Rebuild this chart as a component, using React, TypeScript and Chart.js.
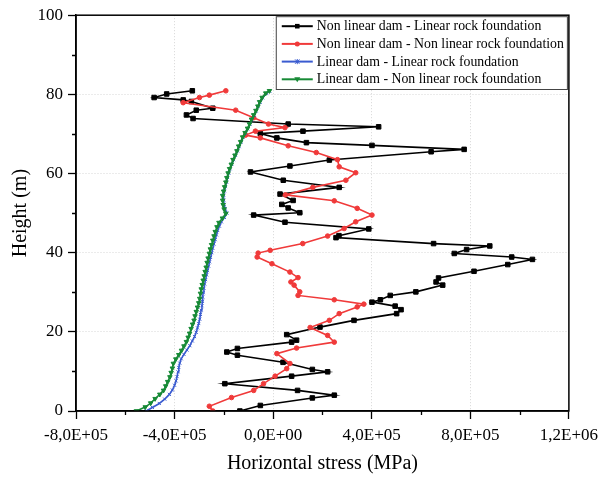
import React, { useEffect, useRef } from 'react';
import { Chart, registerables } from 'chart.js';

Chart.register(...registerables);

// Heights (m) and horizontal stresses (in thousands of MPa units, i.e. x1e3)
const blackHeight = [0,1.4,3.3,4.0,5.2,6.9,8.8,9.9,10.5,12.3,14.1,14.9,15.8,17.4,17.9,19.3,21.2,22.9,24.6,25.6,26.5,27.5,28.1,29.2,30.1,31.8,32.6,33.6,35.3,37.0,38.3,38.9,39.8,40.8,41.7,42.3,43.8,44.3,46.0,47.7,49.5,50.1,51.3,52.2,53.2,54.8,56.5,58.3,60.4,61.9,63.4,65.5,66.1,67.1,67.8,69.0,70.1,70.7,71.8,72.5,73.9,74.8,76.0,76.5,78.2,78.6,79.2,80.1,80.9];
const blackStressK = [-135,-52,159,248,99,-196,75,221,159,40,-145,-188,-145,75,95,55,190,328,501,519,495,401,435,475,579,688,661,671,815,952,1052,968,735,785,879,651,255,267,388,48,-79,108,61,35,81,28,268,41,-92,68,228,641,775,401,135,15,-52,121,428,61,-325,-352,-312,-245,-332,-365,-483,-432,-328];

const redHeight = [0,1.2,3.4,5.2,6.9,8.8,10.7,12.0,14.5,15.9,17.4,19.1,21.1,22.9,24.6,26.3,27.0,28.1,29.2,30.1,31.8,32.6,33.7,35.1,37.2,38.9,39.9,40.6,42.3,44.2,46.1,47.8,49.5,51.2,53.1,54.6,56.5,58.3,60.2,61.7,63.5,65.3,67.0,69.0,69.7,70.7,71.6,72.5,74.1,76.0,77.9,79.2,79.8,80.9];
const redStressK = [-245,-259,-169,-79,-39,8,55,68,15,95,248,221,150,228,268,341,368,248,101,108,85,72,101,68,-5,-65,-61,-12,120,221,288,335,401,341,248,50,161,295,335,268,261,175,61,-52,-112,-72,48,-19,-79,-152,-365,-299,-259,-192];

const blueHeight = [0,0.9,1.9,3.0,4.2,5.3,6.5,7.6,8.7,9.9,11.0,12.1,13.2,14.3,15.4,16.5,17.7,18.8,19.9,21.0,22.1,23.2,24.4,25.5,26.6,27.7,28.8,29.9,31.0,32.1,33.2,34.4,35.5,36.6,37.7,38.8,40.0,41.1,42.2,43.3,44.5,45.6,46.7,47.8,48.9,50.0,51.1,52.2,53.3,54.5,55.6,56.7,57.8,59.0,60.1,61.2,62.3,63.5,64.6,65.7,66.8,68.0,69.1,70.2,71.3,72.5,73.6,74.7,75.8,76.9,78.0,79.1,80.2,80.8];
const blueStressK = [-515,-490,-462,-440,-421,-409,-400,-394,-390,-386,-383,-379,-373,-362,-350,-338,-328,-319,-312,-307,-302,-298,-295,-292,-289,-287,-286,-284,-281,-278,-274,-270,-266,-262,-258,-254,-249,-245,-240,-235,-230,-225,-218,-210,-198,-188,-195,-199,-201,-201,-198,-194,-189,-185,-180,-175,-168,-161,-153,-145,-138,-130,-122,-113,-103,-94,-86,-77,-69,-61,-53,-43,-28,-14];

const greenHeight = [0,1.0,2.0,3.1,4.2,5.2,6.3,7.4,8.6,9.7,10.8,12.0,13.1,14.2,15.3,16.4,17.5,18.6,19.6,20.8,21.9,22.9,24.0,25.1,26.2,27.3,28.4,29.7,30.8,31.9,33.0,34.1,35.2,36.3,37.5,38.6,39.8,40.9,42.0,43.1,44.2,45.3,46.5,47.6,48.7,49.9,51.0,52.1,53.2,54.4,55.5,56.6,57.8,58.9,60.1,61.2,62.3,63.5,64.6,65.7,66.9,68.0,69.2,70.3,71.4,72.5,73.7,74.8,75.9,77.0,78.1,79.2,80.3,80.9];
const greenStressK = [-555,-519,-497,-479,-460,-445,-436,-428,-419,-414,-409,-405,-395,-383,-372,-362,-352,-345,-339,-333,-327,-321,-317,-312,-307,-302,-298,-295,-292,-288,-284,-280,-276,-272,-268,-264,-259,-255,-250,-245,-240,-235,-228,-220,-206,-192,-199,-203,-205,-205,-201,-197,-192,-188,-183,-177,-170,-163,-155,-147,-140,-132,-124,-114,-104,-96,-88,-79,-70,-62,-55,-45,-30,-15];

const seriesLabels = [
  'Non linear dam - Linear rock foundation',
  'Non linear dam - Non linear rock foundation',
  'Linear dam - Linear rock foundation',
  'Linear dam - Non linear rock foundation',
];
const seriesColors = ['#000000', '#f03a3a', '#3a5bd0', '#178a36'];

const xMajorTicks = [-8e5, -4e5, 0, 4e5, 8e5, 1.2e6];
const xMinorTicks = [-6e5, -2e5, 2e5, 6e5, 1e6];
const yMajorTicks = [0, 20, 40, 60, 80, 100];
const yMinorTicks = [10, 30, 50, 70, 90];

const SERIF = '"Liberation Serif", "Times New Roman", serif';

function toPoints(h: number[], sK: number[]) {
  return h.map((y, i) => ({ x: sK[i] * 1e3, y }));
}

function fmtSci(v: number): string {
  if (v === 0) return '0,0E+00';
  const exp = Math.floor(Math.log10(Math.abs(v)) + 1e-9);
  const mant = v / Math.pow(10, exp);
  const e = (exp < 0 ? '-' : '+') + String(Math.abs(exp)).padStart(2, '0');
  return mant.toFixed(1).replace('.', ',') + 'E' + e;
}

function drawMarker(ctx: CanvasRenderingContext2D, kind: string, x: number, y: number, color: string) {
  ctx.save();
  ctx.fillStyle = color;
  ctx.strokeStyle = color;
  ctx.lineWidth = 1;
  ctx.beginPath();
  if (kind === 'rect') {
    ctx.rect(x - 2.3, y - 2.3, 4.6, 4.6);
    ctx.fill();
  } else if (kind === 'circle') {
    ctx.arc(x, y, 2.5, 0, Math.PI * 2);
    ctx.fill();
  } else if (kind === 'cross') {
    ctx.moveTo(x - 2.2, y - 2.2); ctx.lineTo(x + 2.2, y + 2.2);
    ctx.moveTo(x + 2.2, y - 2.2); ctx.lineTo(x - 2.2, y + 2.2);
    ctx.moveTo(x, y - 2.6); ctx.lineTo(x, y + 2.6);
    ctx.stroke();
  } else {
    ctx.moveTo(x - 3, y - 2);
    ctx.lineTo(x + 3, y - 2);
    ctx.lineTo(x, y + 3);
    ctx.closePath();
    ctx.fill();
  }
  ctx.restore();
}

const markerKinds = ['rect', 'circle', 'cross', 'tri'];

const framePlugin = {
  id: 'frameAndLegend',
  afterDraw(chart: any) {
    const { ctx, chartArea: a } = chart;
    const xs = chart.scales.x;
    const ys = chart.scales.y;
    ctx.save();
    // minor ticks
    ctx.strokeStyle = '#000';
    ctx.lineWidth = 1.3;
    ctx.beginPath();
    for (const v of xMinorTicks) {
      const px = Math.round(xs.getPixelForValue(v)) + 0.5;
      ctx.moveTo(px, a.bottom);
      ctx.lineTo(px, a.bottom + 4);
    }
    for (const v of yMinorTicks) {
      const py = Math.round(ys.getPixelForValue(v)) + 0.5;
      ctx.moveTo(a.left, py);
      ctx.lineTo(a.left - 4, py);
    }
    ctx.stroke();
    // frame
    ctx.lineWidth = 1.5;
    ctx.strokeRect(a.left, a.top, a.right - a.left, a.bottom - a.top);

    // legend
    ctx.font = '13.8px ' + SERIF;
    let maxW = 0;
    for (const t of seriesLabels) maxW = Math.max(maxW, ctx.measureText(t).width);
    const right = a.right - 2;
    const width = maxW + 44;
    const left = right - width;
    const top = a.top + 1;
    const rowH = 17.7;
    const height = rowH * 4 + 2;
    ctx.fillStyle = '#fff';
    ctx.fillRect(left, top, width, height);
    ctx.strokeStyle = '#444';
    ctx.lineWidth = 1;
    ctx.strokeRect(left + 0.5, top + 0.5, width, height);
    ctx.textBaseline = 'middle';
    ctx.textAlign = 'left';
    seriesLabels.forEach((t, i) => {
      const cy = top + 10 + i * rowH;
      ctx.strokeStyle = seriesColors[i];
      ctx.lineWidth = 2;
      ctx.beginPath();
      ctx.moveTo(left + 6, cy);
      ctx.lineTo(left + 37, cy);
      ctx.stroke();
      drawMarker(ctx, markerKinds[i], left + 21.5, cy, seriesColors[i]);
      ctx.fillStyle = '#000';
      ctx.fillText(t, left + 41, cy + 0.5);
    });
    ctx.restore();
  },
};

export default function App() {
  const ref = useRef<HTMLCanvasElement | null>(null);
  useEffect(() => {
    document.body.style.margin = '0';
    const canvas = ref.current;
    if (!canvas) return;
    const common = { showLine: true, borderWidth: 1.6, tension: 0, pointBorderWidth: 1 };
    const chart = new Chart(canvas, {
      type: 'scatter',
      data: {
        datasets: [
          {
            ...common,
            label: seriesLabels[0],
            data: toPoints(blackHeight, blackStressK),
            borderColor: seriesColors[0],
            backgroundColor: seriesColors[0],
            pointStyle: 'rect',
            pointRadius: 3.2,
            order: 4,
          },
          {
            ...common,
            label: seriesLabels[1],
            data: toPoints(redHeight, redStressK),
            borderColor: seriesColors[1],
            backgroundColor: seriesColors[1],
            pointStyle: 'circle',
            pointRadius: 2.3,
            order: 3,
          },
          {
            ...common,
            label: seriesLabels[2],
            data: toPoints(blueHeight, blueStressK),
            borderColor: seriesColors[2],
            backgroundColor: seriesColors[2],
            pointStyle: 'crossRot',
            pointRadius: 2.2,
            order: 2,
          },
          {
            ...common,
            label: seriesLabels[3],
            data: toPoints(greenHeight, greenStressK),
            borderColor: seriesColors[3],
            backgroundColor: seriesColors[3],
            pointStyle: 'triangle',
            rotation: 180,
            pointRadius: 2.6,
            order: 1,
          },
        ] as any,
      },
      options: {
        animation: false,
        responsive: false,
        devicePixelRatio: 1,
        layout: { padding: { top: 15, right: 35, left: 0, bottom: 0 } },
        plugins: {
          legend: { display: false },
          tooltip: { enabled: false },
        },
        scales: {
          x: {
            type: 'linear',
            min: -8e5,
            max: 1.2e6,
            afterBuildTicks: (s: any) => {
              s.ticks = xMajorTicks.map((v) => ({ value: v }));
            },
            afterFit: (s: any) => {
              s.height = 69;
            },
            ticks: {
              callback: (v: any) => fmtSci(Number(v)),
              font: { family: SERIF, size: 17 },
              color: '#000',
              padding: 6,
              maxRotation: 0,
              autoSkip: false,
            },
            grid: {
              color: (c: any) =>
                c.tick && (c.tick.value === -8e5 || c.tick.value === 1.2e6) ? 'rgba(0,0,0,0)' : '#d6d6d6',
              lineWidth: 1,
              tickColor: '#000',
              tickLength: 8,
              tickWidth: 1.3,
            },
            border: { display: true, color: '#000', width: 1.5, dash: [1, 2] },
            title: {
              display: true,
              text: 'Horizontal stress (MPa)',
              font: { family: SERIF, size: 20 },
              color: '#000',
              padding: { top: 0, bottom: 4 },
            },
          },
          y: {
            type: 'linear',
            min: 0,
            max: 100,
            afterBuildTicks: (s: any) => {
              s.ticks = yMajorTicks.map((v) => ({ value: v }));
            },
            afterFit: (s: any) => {
              s.width = 76;
            },
            ticks: {
              font: { family: SERIF, size: 17 },
              color: '#000',
              padding: 5,
              autoSkip: false,
            },
            grid: {
              color: (c: any) =>
                c.tick && (c.tick.value === 0 || c.tick.value === 100) ? 'rgba(0,0,0,0)' : '#d6d6d6',
              lineWidth: 1,
              tickColor: '#000',
              tickLength: 8,
              tickWidth: 1.3,
            },
            border: { display: true, color: '#000', width: 1.5, dash: [1, 2] },
            title: {
              display: true,
              text: 'Height (m)',
              font: { family: SERIF, size: 20 },
              color: '#000',
              padding: { top: 9, bottom: 0 },
            },
          },
        },
      } as any,
      plugins: [framePlugin],
    });
    return () => chart.destroy();
  }, []);
  return <canvas ref={ref} width={604} height={480} style={{ display: 'block' }} />;
}
